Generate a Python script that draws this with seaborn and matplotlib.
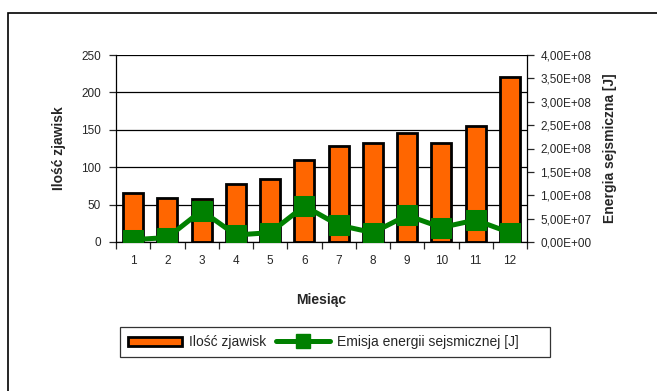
import numpy as np
import pandas as pd
import seaborn as sns
import matplotlib.pyplot as plt
from matplotlib.patches import Rectangle, Patch
from matplotlib.lines import Line2D
from matplotlib.ticker import FuncFormatter, FixedLocator

# data
months = ["1", "2", "3", "4", "5", "6", "7", "8", "9", "10", "11", "12"]
counts = [65, 59, 58, 78, 84, 110, 129, 132, 146, 132, 155, 220]
energy = [5e6, 9.5e6, 6.7e7, 1.5e7, 2.0e7, 7.7e7, 3.6e7, 2.0e7, 5.7e7, 3.1e7, 4.7e7, 2.0e7]

df = pd.DataFrame({"Miesiąc": months, "Ilość": counts, "Energia": energy})

sns.set_style("white")
plt.rcParams["font.family"] = ["Liberation Sans", "DejaVu Sans"]
plt.rcParams["font.size"] = 8.5

orange = "#FF6600"
green = "#008000"

fig = plt.figure(figsize=(6.57, 3.91), dpi=100)
ax = fig.add_axes([116 / 657, 1 - 242 / 391, 411 / 657, 187 / 391])

sns.barplot(data=df, x="Miesiąc", y="Ilość", color=orange, edgecolor="black",
            linewidth=2, width=0.58, saturation=1, ax=ax)
ax.set_xlim(-0.5, 11.5)
ax.set_ylim(0, 250)
ax.set_yticks(range(0, 251, 50))
ax.yaxis.grid(True, color="black", linewidth=0.9)
ax.set_axisbelow(True)
for s in ["top", "right"]:
    ax.spines[s].set_visible(False)
for s in ["left", "bottom"]:
    ax.spines[s].set_color("black")
    ax.spines[s].set_linewidth(0.9)
ax.tick_params(axis="y", direction="out", length=5, width=0.9, pad=6, left=True)
ax.tick_params(axis="x", which="major", length=0, pad=9)
ax.xaxis.set_minor_locator(FixedLocator(np.arange(-0.5, 12, 1)))
ax.tick_params(axis="x", which="minor", direction="out", length=5, width=0.9, bottom=True)
ax.set_xlabel("Miesiąc", fontweight="bold", fontsize=10)
ax.set_ylabel("Ilość zjawisk", fontweight="bold", fontsize=10)
ax.xaxis.set_label_coords(0.5, -0.275)
ax.yaxis.set_label_coords(-0.122, 0.5)

ax2 = ax.twinx()
sns.lineplot(x=np.arange(len(months)), y=df["Energia"], color=green, linewidth=3.6,
             marker="s", markersize=15, markeredgecolor=green, ax=ax2)
ax2.set_ylim(0, 4e8)
ax2.set_yticks(np.arange(0, 4.01e8, 0.5e8))
ax2.yaxis.set_major_formatter(FuncFormatter(lambda v, p: f"{v:.2E}".replace(".", ",")))
for s in ["top", "left", "bottom"]:
    ax2.spines[s].set_visible(False)
ax2.spines["right"].set_color("black")
ax2.spines["right"].set_linewidth(0.9)
ax2.tick_params(axis="y", direction="out", length=5, width=0.9, pad=4.5, right=True)
ax2.set_ylabel("Energia sejsmiczna [J]", fontweight="bold", fontsize=10)
ax2.yaxis.set_label_coords(1.185, 0.5)

handles = [Patch(facecolor=orange, edgecolor="black", linewidth=2),
           Line2D([], [], color=green, linewidth=3.6, marker="s", markersize=10)]
leg = fig.legend(handles, ["Ilość zjawisk", "Emisja energii sejsmicznej [J]      "],
                 loc="center", bbox_to_anchor=(335 / 657, 1 - 342 / 391), ncol=2,
                 frameon=True, fancybox=False, handlelength=3.9, handleheight=0.6,
                 handletextpad=0.5, columnspacing=0.7, borderpad=0.6, fontsize=10)
leg.get_frame().set_edgecolor("black")
leg.get_frame().set_linewidth(0.9)

# outer chart border
fig.patches.append(Rectangle((8 / 657, -0.1), 1.2, 1.1 - 13 / 391, transform=fig.transFigure,
                             fill=False, edgecolor="black", linewidth=1.2))

fig.savefig("out.png", dpi=100)
